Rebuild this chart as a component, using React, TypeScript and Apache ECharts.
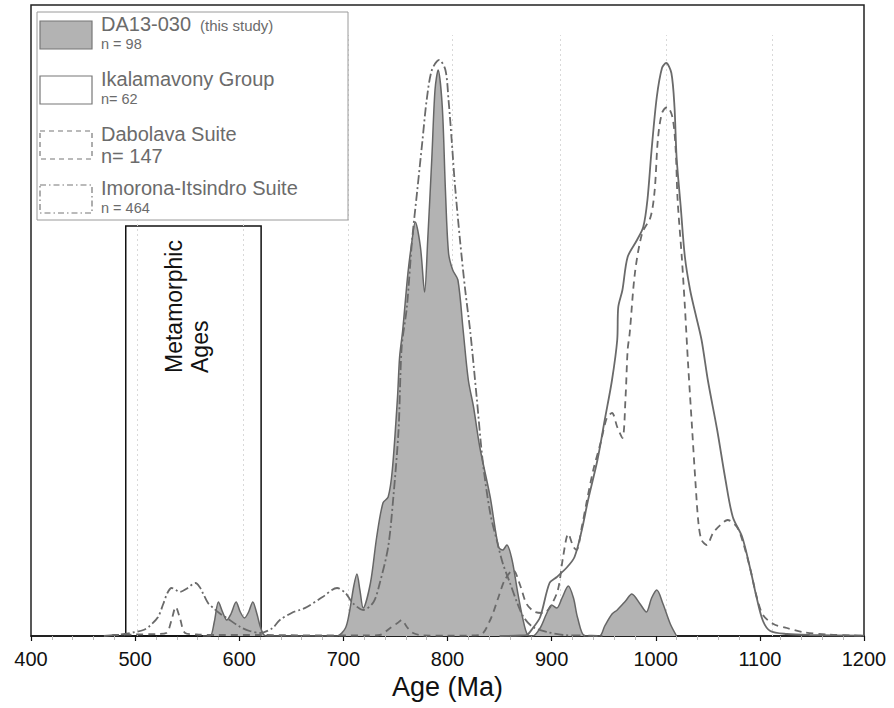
import { useEffect, useRef } from "react";
import * as echarts from "echarts";

// Relative probability curves of detrital zircon ages (arbitrary height units)
const da13Age = [565, 572, 576, 580, 584, 588, 592, 597, 601, 605, 609, 613, 617, 620, 623, 626,
  690, 694, 702, 706, 710, 713, 716, 719, 726, 732, 738, 743, 747, 752, 754, 757, 762, 766, 769, 774, 778, 781, 785, 788, 791, 795, 798, 801, 805, 810, 815, 820, 825, 831, 841, 849, 853, 857, 862, 867, 872, 877,
  882, 889, 895, 900, 905, 910, 916, 921, 925, 932,
  946, 951, 958, 963, 971, 977, 985, 991, 996, 1001, 1007, 1014, 1020];
const da13Density = [0, 0, 14, 34, 24, 16, 22, 34, 24, 18, 24, 34, 22, 10, 2, 0,
  0, 0, 8, 25, 50, 62, 45, 28, 53, 99, 133, 139, 166, 239, 279, 306, 363, 396, 414, 389, 344, 396, 479, 546, 566, 529, 446, 383, 366, 356, 306, 256, 229, 189, 139, 89, 86, 91, 76, 46, 19, 1,
  0, 8, 22, 31, 28, 38, 50, 38, 18, 0,
  0, 10, 22, 26, 35, 42, 32, 24, 38, 46, 32, 12, 0];

const ikalamavonyAge = [850, 870, 876, 882, 889, 898, 905, 915, 922, 929, 935, 944, 951, 958, 963, 964, 968, 973, 982, 988, 992, 996, 1001, 1006, 1010, 1015, 1018, 1020, 1024, 1028, 1033, 1038, 1044, 1050, 1059, 1067, 1074, 1083, 1091, 1097, 1103, 1110, 1126, 1148, 1200];
const ikalamavonyDensity = [0, 0.5, 1, 8, 19, 53, 59, 69, 79, 106, 136, 176, 216, 256, 296, 329, 346, 379, 396, 409, 436, 486, 539, 568, 573, 563, 529, 479, 429, 379, 346, 323, 296, 256, 206, 156, 119, 99, 66, 38, 15, 5, 2, 1, 0.3];

const dabolavaAge = [478, 500, 520, 530, 535, 539, 543, 548, 559, 580, 620, 680, 720, 735, 745, 752, 756, 761, 767, 777, 800, 831, 841, 849, 855, 863, 870, 876, 884, 892, 898, 906, 911, 916, 921, 924, 929, 934, 940, 947, 953, 958, 963, 968, 971, 973, 975, 980, 987, 995, 999, 1002, 1006, 1011, 1016, 1019, 1021, 1025, 1028, 1031, 1035, 1038, 1041, 1044, 1049, 1055, 1062, 1069, 1078, 1084, 1091, 1097, 1103, 1113, 1126, 1141, 1165, 1190, 1200];
const dabolavaDensity = [1, 1.5, 2, 3, 16, 29, 18, 3, 1.5, 1, 1, 0.5, 0.5, 1, 8, 13, 16, 9, 3, 0.5, 0.3, 1, 16, 39, 56, 66, 50, 32, 24, 23, 28, 46, 79, 102, 89, 86, 109, 136, 166, 193, 218, 223, 209, 198, 239, 286, 303, 363, 403, 419, 446, 496, 523, 529, 519, 489, 436, 379, 329, 273, 206, 156, 113, 96, 91, 103, 111, 116, 109, 93, 66, 39, 21, 12, 8, 4, 1.5, 0.5, 0.3];

const imoronaAge = [470, 481, 490, 500, 508, 514, 522, 527, 531, 535, 539, 543, 549, 558, 562, 565, 570, 575, 582, 588, 601, 610, 620, 632, 639, 652, 658, 665, 680, 694, 702, 709, 719, 729, 735, 743, 748, 753, 756, 761, 766, 771, 776, 780, 785, 792, 798, 801, 804, 807, 812, 817, 822, 828, 834, 841, 848, 853, 860, 867, 873, 882, 896, 911, 930, 950];
const imoronaDensity = [0, 1, 2, 4, 6, 10, 19, 32, 43, 48, 46, 44, 47, 53, 49, 43, 33, 28, 22, 18, 9, 5, 3, 8, 16, 24, 26, 29, 39, 48, 43, 33, 26, 34, 53, 89, 139, 206, 289, 329, 396, 446, 496, 536, 566, 576, 566, 536, 496, 453, 396, 346, 303, 239, 173, 123, 93, 73, 53, 33, 19, 9, 4, 1, 0.5, 0];

// Faint reference lines and the metamorphic-age window
const guideAges = [502, 604, 705, 805, 908, 1010, 1112];
const metamorphicRange = [491, 621];
const metamorphicTop = 410;
const yMax = 631;

const zip = (a: number[], b: number[]) => a.map((x, i) => [x, b[i]]);

const FONT = "'Liberation Sans', Arial, sans-serif";
const LINE = "#6a6a6a";
const TEXT = "#6b6b6b";

export default function App() {
  const ref = useRef<HTMLDivElement>(null);

  useEffect(() => {
    const chart = echarts.init(ref.current!, null, { renderer: "svg" });

    const legendItems = [
      { y: 21, fill: "#b3b3b3", dash: null as any, title: "DA13-030", extra: "(this study)", n: "n = 98", big: false },
      { y: 76, fill: "#fff", dash: null as any, title: "Ikalamavony Group", extra: "", n: "n= 62", big: false },
      { y: 131, fill: "#fff", dash: [5, 4], title: "Dabolava Suite", extra: "", n: "n= 147", big: true },
      { y: 185, fill: "#fff", dash: [6, 3, 1.5, 3], title: "Imorona-Itsindro Suite", extra: "", n: "n = 464", big: false },
    ];

    const legendGraphics: any[] = [
      {
        type: "rect",
        shape: { x: 37, y: 12, width: 311, height: 208 },
        style: { fill: "#fff", stroke: "#9a9a9a", lineWidth: 1 },
        z: 100,
      },
    ];
    legendItems.forEach((it) => {
      legendGraphics.push({
        type: "rect",
        shape: { x: 40, y: it.y, width: 52, height: 28 },
        style: { fill: it.fill, stroke: "#777", lineWidth: 1.2, lineDash: it.dash },
        z: 101,
      });
      legendGraphics.push({
        type: "text",
        x: 101,
        y: it.y + 3,
        style: { text: it.title, fontSize: 20, fontFamily: FONT, fill: TEXT, verticalAlign: "middle" },
        z: 101,
      });
      if (it.extra) {
        legendGraphics.push({
          type: "text",
          x: 200,
          y: it.y + 4.5,
          style: { text: it.extra, fontSize: 15, fontFamily: FONT, fill: TEXT, verticalAlign: "middle" },
          z: 101,
        });
      }
      legendGraphics.push({
        type: "text",
        x: 101,
        y: it.big ? it.y + 25 : it.y + 22.5,
        style: { text: it.n, fontSize: it.big ? 20 : 14.5, fontFamily: FONT, fill: TEXT, verticalAlign: "middle" },
        z: 101,
      });
    });

    chart.setOption({
      animation: false,
      backgroundColor: "#fff",
      grid: {
        left: 31,
        right: 30,
        top: 5,
        bottom: 72,
        show: true,
        borderColor: "#222",
        borderWidth: 1.5,
        backgroundColor: "transparent",
      },
      xAxis: {
        type: "value",
        min: 400,
        max: 1200,
        interval: 100,
        name: "Age (Ma)",
        nameLocation: "middle",
        nameGap: 36,
        nameTextStyle: { fontSize: 27, fontFamily: FONT, color: "#111" },
        axisLine: { lineStyle: { color: "#111", width: 1.5 } },
        axisTick: { length: 5, lineStyle: { color: "#111", width: 1.2 } },
        minorTick: { show: true, splitNumber: 5, length: 4, lineStyle: { color: "#bbb" } },
        axisLabel: {
          fontSize: 20,
          fontFamily: FONT,
          color: "#111",
          margin: 13,
          formatter: (v: number) => String(v),
        },
        splitLine: { show: false },
      },
      yAxis: {
        type: "value",
        min: 0,
        max: yMax,
        show: false,
        splitLine: { show: false },
      },
      series: [
        {
          name: "DA13-030",
          type: "line",
          data: zip(da13Age, da13Density),
          smooth: 0.3,
          symbol: "none",
          lineStyle: { color: "#666", width: 1.5 },
          areaStyle: { color: "#b3b3b3", opacity: 1 },
          z: 2,
          markLine: {
            silent: true,
            symbol: ["none", "none"],
            label: { show: false },
            lineStyle: { color: "#d9d9d9", type: [2, 3], width: 1 },
            data: guideAges.map((a) => [{ coord: [a, 0] }, { coord: [a, 601] }]),
            z: 1,
          },
          markArea: {
            silent: true,
            itemStyle: { color: "rgba(0,0,0,0)", borderColor: "#111", borderWidth: 1.5 },
            data: [[{ coord: [metamorphicRange[0], 0] }, { coord: [metamorphicRange[1], metamorphicTop] }]],
          },
        },
        {
          name: "Ikalamavony Group",
          type: "line",
          data: zip(ikalamavonyAge, ikalamavonyDensity),
          smooth: 0.3,
          symbol: "none",
          lineStyle: { color: LINE, width: 1.8 },
          z: 4,
        },
        {
          name: "Dabolava Suite",
          type: "line",
          data: zip(dabolavaAge, dabolavaDensity),
          smooth: 0.3,
          symbol: "none",
          lineStyle: { color: LINE, width: 1.8, type: [7, 5] },
          z: 4,
        },
        {
          name: "Imorona-Itsindro Suite",
          type: "line",
          data: zip(imoronaAge, imoronaDensity),
          smooth: 0.3,
          symbol: "none",
          lineStyle: { color: LINE, width: 1.8, type: [9, 3, 2, 3] },
          z: 4,
        },
      ],
      graphic: [
        ...legendGraphics,
        {
          type: "text",
          x: 174,
          y: 373,
          rotation: Math.PI / 2,
          style: { text: "Metamorphic", fontSize: 23, fontFamily: FONT, fill: "#111", align: "left", verticalAlign: "middle" },
          z: 50,
        },
        {
          type: "text",
          x: 200,
          y: 373,
          rotation: Math.PI / 2,
          style: { text: "Ages", fontSize: 23, fontFamily: FONT, fill: "#111", align: "left", verticalAlign: "middle" },
          z: 50,
        },
      ],
    });

    return () => chart.dispose();
  }, []);

  return (
    <div
      ref={ref}
      style={{ position: "fixed", left: 0, top: 0, width: 894, height: 708, background: "#fff" }}
    />
  );
}
